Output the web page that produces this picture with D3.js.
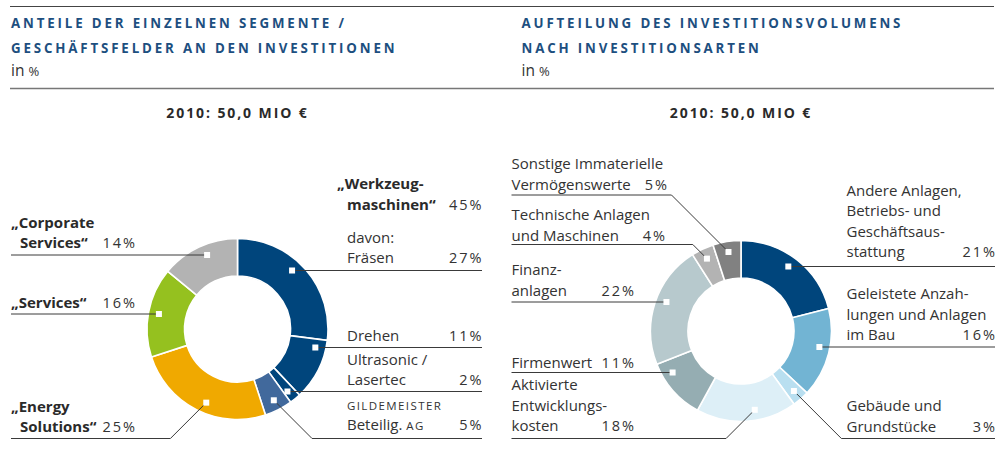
<!DOCTYPE html>
<html>
<head>
<meta charset="utf-8">
<script src="https://cdn.jsdelivr.net/npm/d3@7"></script>
<style>
body { margin: 0; background: #fff; }
text { font-family: "Open Sans", sans-serif; }
</style>
</head>
<body>
<svg width="996" height="464"></svg>
<script>
// ---- data ----
var leftCategories = ["Fräsen", "Drehen", "Ultrasonic / Lasertec", "GILDEMEISTER Beteilig. AG",
    "Energy Solutions", "Services", "Corporate Services"];
var leftValues = [27, 11, 2, 5, 25, 16, 14];
var leftColors = ["#00457c", "#00457c", "#00457c", "#41699c", "#f0a900", "#95c11f", "#b3b3b3"];
var leftGroup = [0, 1, 2, 3]; // "Werkzeugmaschinen" = Fräsen + Drehen + Ultrasonic + Gildemeister

var rightCategories = ["Andere Anlagen, Betriebs- und Geschäftsausstattung",
    "Geleistete Anzahlungen und Anlagen im Bau", "Gebäude und Grundstücke",
    "Aktivierte Entwicklungskosten", "Firmenwert", "Finanzanlagen",
    "Technische Anlagen und Maschinen", "Sonstige Immaterielle Vermögenswerte"];
var rightValues = [21, 16, 3, 18, 11, 22, 4, 5];
var rightColors = ["#00457c", "#72b4d3", "#b9dff0", "#ddeff7", "#95adb2", "#b7c9cd", "#b3b3b3", "#818181"];

var leftTitle = ["ANTEILE DER EINZELNEN SEGMENTE /", "GESCHÄFTSFELDER AN DEN INVESTITIONEN"];
var rightTitle = ["AUFTEILUNG DES INVESTITIONSVOLUMENS", "NACH INVESTITIONSARTEN"];
var totalLabel = "2010: 50,0 MIO €";

// ---- label layout (text lines + where the leader line sits) ----
var leftLabels = [
    {side: "r", lines: ["davon:", "Fräsen"], y: 243, lineY: 270.5},
    {side: "r", lines: ["Drehen"], y: 341, lineY: 347.5},
    {side: "r", lines: ["Ultrasonic /", "Lasertec"], y: 365, lineY: 391.5},
    {side: "r", lines: [[["GILDEMEISTER", 1]], [["Beteilig. ", 0], ["AG", 1]]], y: 410, lineY: 438.5, elbow: true},
    {side: "l", bold: true, lines: ["„Energy", "Solutions“"], y: 412, lineY: 438.5, elbow: true, shift: 0.07},
    {side: "l", bold: true, lines: ["„Services“"], y: 307.5, lineY: 314},
    {side: "l", bold: true, lines: ["„Corporate", "Services“"], y: 228, lineY: 255}
];
var rightLabels = [
    {side: "r", lines: ["Andere Anlagen,", "Betriebs- und", "Geschäftsaus-", "stattung"], y: 195.5, lineY: 266.5},
    {side: "r", lines: ["Geleistete Anzah-", "lungen und Anlagen", "im Bau"], y: 299, lineY: 347},
    {side: "r", lines: ["Gebäude und", "Grundstücke"], y: 411, lineY: 438.5, elbow: true},
    {side: "l", lines: ["Aktivierte", "Entwicklungs-", "kosten"], y: 390, lineY: 438.5, elbow: true, pctX: 636, shift: 0.11},
    {side: "l", lines: ["Firmenwert"], y: 367.5, lineY: 372.5, pctX: 636},
    {side: "l", lines: ["Finanz-", "anlagen"], y: 275, lineY: 302, pctX: 636},
    {side: "l", lines: ["Technische Anlagen", "und Maschinen"], y: 220, lineY: 244.5, elbow: true, pctX: 667},
    {side: "l", lines: ["Sonstige Immaterielle", "Vermögenswerte"], y: 169, lineY: 195, elbow: true, pctX: 669}
];

var svg = d3.select("svg");
var textColor = "#333";
var titleColor = "#1d4f7f";
var lineColor = "#3a3a3a";

// rules
svg.append("line").attr("x1", 10).attr("x2", 994).attr("y1", 6.5).attr("y2", 6.5)
    .attr("stroke", "#444").attr("stroke-width", 1);
svg.append("line").attr("x1", 10).attr("x2", 994).attr("y1", 88.5).attr("y2", 88.5)
    .attr("stroke", "#777").attr("stroke-width", 1.4);

function header(x, lines) {
    lines.forEach(function (t, i) {
        svg.append("text").attr("x", x).attr("y", 28 + i * 24.5)
            .attr("fill", titleColor).style("font-weight", 700).style("font-size", "13.3px")
            .style("letter-spacing", "2.85px").text(t);
    });
    var u = svg.append("text").attr("x", x).attr("y", 76).attr("fill", textColor)
        .style("font-size", "15.5px");
    u.append("tspan").text("in ");
    u.append("tspan").style("font-size", "13px").text("%");
}
header(11, leftTitle);
header(521.5, rightTitle);

function donut(opt) {
    var g = svg.append("g");
    var cx = opt.cx, cy = opt.cy;
    var markerR = 80;

    g.append("text").attr("x", cx).attr("y", 118).attr("text-anchor", "middle")
        .attr("fill", "#2a2a2a").style("font-weight", 700).style("font-size", "14px")
        .style("letter-spacing", "1.9px").text(totalLabel);

    var pie = d3.pie().sort(null).value(function (d) { return d; });
    var arcs = pie(opt.values);
    var arc = d3.arc().innerRadius(53).outerRadius(90.5);

    g.append("g").attr("transform", "translate(" + cx + "," + cy + ")")
        .selectAll("path").data(arcs).enter().append("path")
        .attr("d", arc)
        .attr("fill", function (d, i) { return opt.colors[i]; })
        .attr("stroke", "#fff").attr("stroke-width", 1.6);

    arcs.forEach(function (a, i) {
        var lab = opt.labels[i];
        var dir = lab.side === "l" ? -1 : 1;
        var mx, my;
        if (lab.elbow) {
            // marker near the slice centre, nudged toward the label side
            var mid = (a.startAngle + a.endAngle) / 2 - (lab.shift || 0);
            mx = cx + markerR * Math.sin(mid);
            my = cy - markerR * Math.cos(mid);
        } else {
            my = lab.lineY;
            mx = cx + dir * Math.sqrt(markerR * markerR - (my - cy) * (my - cy));
        }
        var endX = lab.side === "l" ? opt.leftEdge : opt.rightEdge;
        var pts = [[mx, my]];
        if (lab.elbow) pts.push([mx + dir * Math.abs(lab.lineY - my), lab.lineY]);
        pts.push([endX, lab.lineY]);
        g.append("path").attr("d", d3.line()(pts)).attr("fill", "none")
            .attr("stroke", lineColor).attr("stroke-width", 1);
        g.append("rect").attr("x", mx - 3).attr("y", my - 3).attr("width", 6).attr("height", 6)
            .attr("fill", "#fff");

        // text
        var tx = lab.side === "l" ? opt.leftTextX : opt.rightTextX;
        lab.lines.forEach(function (ln, j) {
            var x = tx;
            if (lab.bold && j === 0) x = tx - 9;
            var t = g.append("text").attr("x", x).attr("y", lab.y + j * opt.lh)
                .attr("fill", lab.bold ? "#2a2a2a" : textColor)
                .style("font-size", "15px").style("font-weight", lab.bold ? 700 : 400);
            if (typeof ln === "string") t.text(ln);
            else ln.forEach(function (p) {
                var s = t.append("tspan").text(p[0]);
                if (p[1]) s.style("font-size", "11.5px").style("letter-spacing", "1.4px");
            });
        });
        var px = lab.pctX || (lab.side === "l" ? opt.leftPctX : opt.rightPctX);
        g.append("text").attr("x", px).attr("y", lab.y + (lab.lines.length - 1) * opt.lh)
            .attr("text-anchor", "end").attr("fill", textColor)
            .style("font-size", "14.5px").style("letter-spacing", "2px")
            .text(a.data + "%");
    });
    return g;
}

var gl = donut({cx: 237.5, cy: 329, values: leftValues, colors: leftColors, labels: leftLabels,
    leftEdge: 11, rightEdge: 482, leftTextX: 20, rightTextX: 347, leftPctX: 137, rightPctX: 483.5, lh: 20.3});

// group header "Werkzeugmaschinen"
var groupSum = d3.sum(leftGroup, function (i) { return leftValues[i]; });
["„Werkzeug-", "maschinen“"].forEach(function (t, j) {
    gl.append("text").attr("x", j === 0 ? 337 : 347).attr("y", 189 + j * 21)
        .attr("fill", "#2a2a2a").style("font-size", "15px").style("font-weight", 700).text(t);
});
gl.append("text").attr("x", 483.5).attr("y", 210).attr("text-anchor", "end").attr("fill", textColor)
    .style("font-size", "14.5px").style("letter-spacing", "2px").text(groupSum + "%");

donut({cx: 741, cy: 331, values: rightValues, colors: rightColors, labels: rightLabels,
    leftEdge: 511.5, rightEdge: 995, leftTextX: 511.5, rightTextX: 846.5, leftPctX: 638, rightPctX: 997, lh: 20.6});
</script>
</body>
</html>
